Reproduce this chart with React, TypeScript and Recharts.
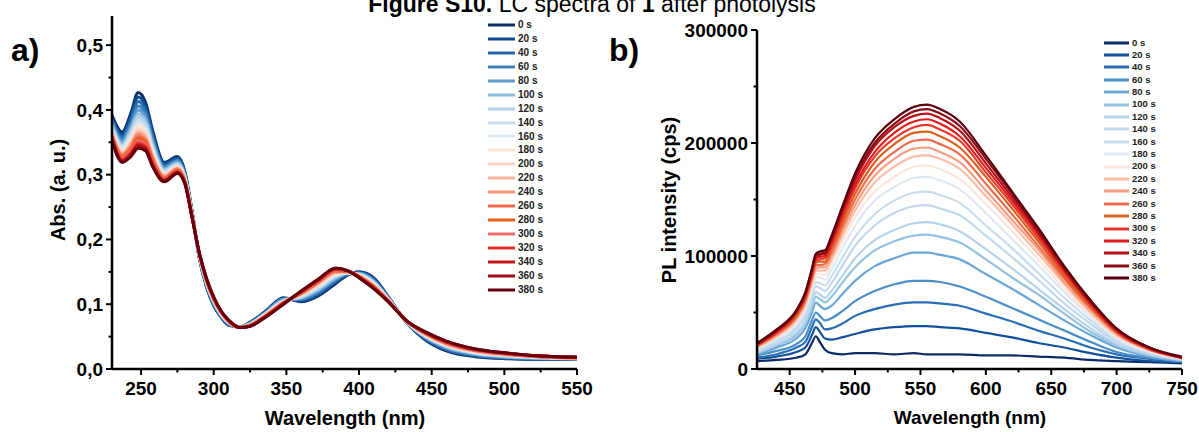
import React from 'react';
import { LineChart, Line, XAxis, YAxis, Legend } from 'recharts';

// ---------- shared ----------
const TIMES = ['0 s', '20 s', '40 s', '60 s', '80 s', '100 s', '120 s', '140 s', '160 s', '180 s', '200 s', '220 s', '240 s', '260 s', '280 s', '300 s', '320 s', '340 s', '360 s', '380 s'];

// ---------- panel a: absorbance ----------
const WL_A = [230, 237, 243, 248, 253, 258, 266, 275, 280, 285, 290, 295, 300, 305, 310, 318, 325, 335, 348, 360, 372, 384, 392, 400, 410, 420, 433, 445, 460, 480, 500, 525, 550];
const A00 = [0.392, 0.366, 0.395, 0.427, 0.412, 0.368, 0.319, 0.328, 0.306, 0.245, 0.172, 0.127, 0.098, 0.080, 0.068, 0.065, 0.072, 0.088, 0.110, 0.104, 0.113, 0.132, 0.145, 0.150, 0.141, 0.112, 0.071, 0.046, 0.028, 0.019, 0.016, 0.015, 0.015];
const A20 = [0.389, 0.362, 0.390, 0.420, 0.406, 0.364, 0.317, 0.326, 0.305, 0.244, 0.173, 0.128, 0.099, 0.081, 0.069, 0.065, 0.072, 0.087, 0.109, 0.105, 0.115, 0.134, 0.146, 0.149, 0.140, 0.111, 0.071, 0.047, 0.029, 0.020, 0.017, 0.015, 0.015];
const A40 = [0.386, 0.358, 0.384, 0.413, 0.400, 0.359, 0.314, 0.324, 0.303, 0.243, 0.173, 0.129, 0.100, 0.082, 0.069, 0.065, 0.071, 0.087, 0.108, 0.107, 0.117, 0.136, 0.146, 0.149, 0.138, 0.111, 0.072, 0.048, 0.030, 0.021, 0.017, 0.016, 0.016];
const A60 = [0.383, 0.355, 0.379, 0.406, 0.394, 0.355, 0.312, 0.322, 0.301, 0.243, 0.174, 0.130, 0.101, 0.082, 0.070, 0.065, 0.071, 0.086, 0.108, 0.108, 0.119, 0.138, 0.147, 0.148, 0.137, 0.110, 0.072, 0.049, 0.032, 0.022, 0.018, 0.016, 0.016];
const A80 = [0.380, 0.351, 0.374, 0.400, 0.389, 0.351, 0.310, 0.320, 0.300, 0.242, 0.175, 0.131, 0.102, 0.083, 0.071, 0.065, 0.070, 0.085, 0.107, 0.109, 0.121, 0.139, 0.147, 0.147, 0.136, 0.110, 0.072, 0.050, 0.033, 0.023, 0.019, 0.017, 0.016];
const A100 = [0.377, 0.348, 0.370, 0.394, 0.384, 0.347, 0.308, 0.318, 0.299, 0.241, 0.175, 0.132, 0.103, 0.084, 0.071, 0.065, 0.070, 0.085, 0.106, 0.110, 0.123, 0.141, 0.148, 0.147, 0.135, 0.109, 0.072, 0.051, 0.034, 0.024, 0.019, 0.017, 0.016];
const A120 = [0.375, 0.345, 0.366, 0.389, 0.379, 0.343, 0.306, 0.317, 0.298, 0.241, 0.176, 0.133, 0.104, 0.084, 0.072, 0.065, 0.069, 0.084, 0.106, 0.111, 0.124, 0.143, 0.148, 0.146, 0.134, 0.109, 0.072, 0.051, 0.035, 0.024, 0.020, 0.017, 0.016];
const A140 = [0.373, 0.343, 0.362, 0.384, 0.375, 0.340, 0.304, 0.315, 0.297, 0.240, 0.176, 0.134, 0.105, 0.085, 0.072, 0.065, 0.069, 0.084, 0.105, 0.112, 0.126, 0.144, 0.149, 0.146, 0.133, 0.108, 0.073, 0.052, 0.036, 0.025, 0.021, 0.018, 0.017];
const A160 = [0.370, 0.340, 0.358, 0.379, 0.370, 0.337, 0.302, 0.313, 0.295, 0.239, 0.177, 0.134, 0.105, 0.086, 0.073, 0.064, 0.069, 0.083, 0.104, 0.113, 0.128, 0.145, 0.149, 0.145, 0.132, 0.108, 0.073, 0.053, 0.036, 0.026, 0.021, 0.018, 0.017];
const A180 = [0.368, 0.337, 0.354, 0.375, 0.366, 0.334, 0.301, 0.312, 0.294, 0.239, 0.177, 0.135, 0.106, 0.086, 0.073, 0.064, 0.068, 0.083, 0.104, 0.114, 0.129, 0.147, 0.149, 0.145, 0.131, 0.107, 0.073, 0.053, 0.037, 0.026, 0.022, 0.018, 0.017];
const A200 = [0.366, 0.335, 0.351, 0.370, 0.363, 0.331, 0.299, 0.311, 0.294, 0.238, 0.177, 0.136, 0.107, 0.087, 0.073, 0.064, 0.068, 0.082, 0.103, 0.115, 0.130, 0.148, 0.150, 0.144, 0.130, 0.107, 0.073, 0.054, 0.038, 0.027, 0.022, 0.018, 0.017];
const A220 = [0.364, 0.333, 0.347, 0.366, 0.359, 0.328, 0.298, 0.310, 0.293, 0.238, 0.178, 0.136, 0.107, 0.087, 0.074, 0.064, 0.068, 0.082, 0.103, 0.115, 0.132, 0.149, 0.150, 0.144, 0.129, 0.106, 0.073, 0.055, 0.039, 0.028, 0.022, 0.019, 0.017];
const A240 = [0.363, 0.331, 0.345, 0.363, 0.356, 0.326, 0.297, 0.309, 0.292, 0.238, 0.178, 0.137, 0.108, 0.088, 0.074, 0.064, 0.068, 0.081, 0.103, 0.116, 0.133, 0.150, 0.150, 0.143, 0.128, 0.106, 0.073, 0.055, 0.039, 0.028, 0.023, 0.019, 0.017];
const A260 = [0.361, 0.329, 0.342, 0.359, 0.353, 0.324, 0.295, 0.308, 0.291, 0.237, 0.178, 0.137, 0.108, 0.088, 0.074, 0.064, 0.067, 0.081, 0.102, 0.117, 0.134, 0.151, 0.151, 0.143, 0.128, 0.106, 0.073, 0.056, 0.040, 0.029, 0.023, 0.019, 0.017];
const A280 = [0.360, 0.327, 0.339, 0.356, 0.350, 0.322, 0.294, 0.306, 0.290, 0.237, 0.179, 0.138, 0.109, 0.088, 0.075, 0.064, 0.067, 0.081, 0.102, 0.117, 0.135, 0.152, 0.151, 0.143, 0.127, 0.105, 0.074, 0.056, 0.041, 0.029, 0.024, 0.019, 0.018];
const A300 = [0.358, 0.325, 0.337, 0.352, 0.347, 0.319, 0.293, 0.305, 0.290, 0.236, 0.179, 0.138, 0.109, 0.089, 0.075, 0.064, 0.067, 0.080, 0.101, 0.118, 0.136, 0.153, 0.151, 0.142, 0.126, 0.105, 0.074, 0.056, 0.041, 0.029, 0.024, 0.019, 0.018];
const A320 = [0.357, 0.323, 0.334, 0.349, 0.344, 0.317, 0.292, 0.304, 0.289, 0.236, 0.179, 0.139, 0.110, 0.089, 0.075, 0.064, 0.067, 0.080, 0.101, 0.119, 0.137, 0.154, 0.151, 0.142, 0.126, 0.105, 0.074, 0.057, 0.042, 0.030, 0.024, 0.020, 0.018];
const A340 = [0.355, 0.322, 0.332, 0.346, 0.342, 0.315, 0.291, 0.304, 0.288, 0.236, 0.180, 0.139, 0.110, 0.089, 0.076, 0.064, 0.066, 0.080, 0.101, 0.119, 0.137, 0.155, 0.152, 0.142, 0.125, 0.105, 0.074, 0.057, 0.042, 0.030, 0.025, 0.020, 0.018];
const A360 = [0.354, 0.320, 0.330, 0.344, 0.339, 0.314, 0.290, 0.303, 0.288, 0.235, 0.180, 0.140, 0.111, 0.090, 0.076, 0.064, 0.066, 0.079, 0.100, 0.120, 0.138, 0.155, 0.152, 0.141, 0.125, 0.104, 0.074, 0.058, 0.043, 0.031, 0.025, 0.020, 0.018];
const A380 = [0.353, 0.319, 0.328, 0.341, 0.337, 0.312, 0.289, 0.302, 0.287, 0.235, 0.180, 0.140, 0.111, 0.090, 0.076, 0.064, 0.066, 0.079, 0.100, 0.120, 0.139, 0.156, 0.152, 0.141, 0.124, 0.104, 0.074, 0.058, 0.043, 0.031, 0.025, 0.020, 0.018];
const SERIES_A = [A00, A20, A40, A60, A80, A100, A120, A140, A160, A180, A200, A220, A240, A260, A280, A300, A320, A340, A360, A380];
const COLORS_A = ['#0b2e6b', '#0f4c8f', '#2468ad', '#3d84bf', '#5d9dcf', '#8fbfe0', '#b3d0e9', '#c8dcef', '#dce8f4', '#fde3d3', '#fcd3c6', '#f9b59d', '#f4917a', '#ee6a4f', '#e8611a', '#f06d6d', '#e3302a', '#c4151d', '#a10e16', '#66000e'];
const A_X_TICKS = [250, 275, 300, 325, 350, 375, 400, 425, 450, 475, 500, 525, 550];
const A_X_MAJOR = [250, 300, 350, 400, 450, 500, 550];
const A_X_LABELS = ['250', '300', '350', '400', '450', '500', '550'];
const A_Y_TICKS = [0, 0.05, 0.1, 0.15, 0.2, 0.25, 0.3, 0.35, 0.4, 0.45, 0.5];
const A_Y_MAJOR = [0, 0.1, 0.2, 0.3, 0.4, 0.5];
const A_Y_LABELS = ['0,0', '0,1', '0,2', '0,3', '0,4', '0,5'];

// ---------- panel b: PL intensity (thousand cps) ----------
const WL_B = [425, 440, 455, 462, 467, 470, 473, 477, 482, 490, 500, 515, 530, 545, 555, 565, 580, 600, 620, 640, 660, 680, 700, 725, 750];
const P00 = [7, 8, 10, 13, 23, 29, 24, 17, 14, 13, 14, 14, 13, 14, 13, 13, 13, 12, 12, 11, 10, 8, 7, 6, 5];
const P20 = [9, 11, 15, 19, 30, 37, 33, 27, 26, 28, 31, 35, 37, 38, 38, 37, 36, 32, 28, 23, 19, 14, 10, 7, 6];
const P40 = [10, 13, 19, 24, 37, 44, 41, 35, 36, 40, 47, 53, 57, 59, 59, 58, 56, 49, 42, 34, 27, 19, 13, 9, 6];
const P60 = [12, 16, 22, 29, 43, 50, 47, 43, 45, 51, 60, 69, 75, 78, 78, 77, 73, 64, 54, 44, 34, 24, 15, 10, 7];
const P80 = [13, 19, 27, 36, 50, 59, 56, 53, 56, 66, 78, 91, 98, 103, 103, 101, 97, 84, 71, 57, 43, 30, 19, 11, 7];
const P100 = [14, 21, 30, 40, 55, 64, 62, 59, 64, 76, 90, 105, 113, 118, 119, 117, 112, 97, 81, 66, 49, 33, 21, 12, 8];
const P120 = [15, 22, 32, 42, 58, 68, 66, 63, 69, 82, 98, 114, 123, 129, 130, 128, 122, 106, 89, 71, 53, 36, 22, 13, 8];
const P140 = [16, 24, 35, 46, 63, 73, 72, 69, 76, 91, 109, 127, 138, 144, 145, 142, 136, 118, 99, 79, 58, 40, 24, 14, 8];
const P160 = [17, 25, 37, 49, 66, 77, 76, 74, 82, 98, 117, 137, 149, 156, 157, 154, 147, 127, 107, 85, 63, 43, 26, 15, 9];
const P180 = [18, 27, 40, 52, 70, 81, 81, 79, 88, 106, 127, 149, 161, 169, 170, 167, 159, 138, 115, 92, 68, 46, 27, 15, 9];
const P200 = [19, 28, 42, 55, 73, 84, 84, 83, 93, 112, 134, 157, 170, 179, 180, 177, 168, 146, 122, 97, 71, 48, 29, 16, 9];
const P220 = [19, 29, 43, 57, 76, 87, 87, 87, 97, 117, 140, 165, 179, 188, 189, 186, 177, 153, 128, 102, 75, 50, 30, 17, 9];
const P240 = [20, 30, 45, 59, 78, 89, 90, 90, 100, 121, 145, 171, 186, 195, 196, 192, 183, 158, 132, 106, 77, 52, 31, 17, 10];
const P260 = [20, 31, 46, 61, 80, 92, 92, 93, 103, 125, 150, 177, 192, 202, 203, 199, 190, 164, 137, 109, 80, 54, 32, 17, 10];
const P280 = [21, 32, 47, 62, 82, 94, 95, 95, 107, 129, 155, 183, 199, 209, 210, 206, 196, 170, 142, 113, 82, 55, 33, 18, 10];
const P300 = [21, 32, 49, 64, 84, 96, 97, 98, 109, 133, 160, 188, 204, 214, 216, 212, 202, 174, 146, 116, 85, 57, 33, 18, 10];
const P320 = [22, 33, 50, 65, 85, 98, 99, 100, 112, 136, 163, 192, 209, 219, 221, 217, 206, 178, 149, 119, 87, 58, 34, 18, 10];
const P340 = [22, 34, 50, 66, 87, 99, 101, 102, 114, 139, 167, 197, 214, 224, 226, 222, 211, 182, 152, 121, 88, 59, 35, 19, 10];
const P360 = [22, 34, 51, 67, 88, 101, 102, 103, 116, 141, 170, 200, 217, 228, 230, 226, 215, 186, 155, 123, 90, 60, 35, 19, 10];
const P380 = [23, 35, 52, 68, 89, 102, 104, 105, 118, 143, 173, 204, 221, 232, 234, 230, 219, 189, 157, 125, 91, 61, 36, 19, 11];
const SERIES_B = [P00, P20, P40, P60, P80, P100, P120, P140, P160, P180, P200, P220, P240, P260, P280, P300, P320, P340, P360, P380];
const COLORS_B = ['#0b2b66', '#11509a', '#2a6db4', '#4a8fc8', '#6aa7d6', '#94c2e3', '#b7d3ea', '#c3d8ec', '#c9ddef', '#dde9f5', '#fde7dd', '#fbbea7', '#f69f80', '#f06a4e', '#d8611b', '#e4392e', '#e31b1c', '#b3121b', '#8a0a14', '#5a0010'];
const B_X_TICKS = [450, 475, 500, 525, 550, 575, 600, 625, 650, 675, 700, 725, 750];
const B_X_MAJOR = [450, 500, 550, 600, 650, 700, 750];
const B_X_LABELS = ['450', '500', '550', '600', '650', '700', '750'];
const B_Y_TICKS = [0, 50, 100, 150, 200, 250, 300];
const B_Y_MAJOR = [0, 100, 200, 300];
const B_Y_LABELS = ['0', '100000', '200000', '300000'];

const FONT = "'Liberation Sans', Arial, Helvetica, sans-serif";

function buildRows(xs: number[], series: number[][]) {
  return xs.map((x, i) => {
    const row: Record<string, number> = { x };
    series.forEach((s, j) => { row['s' + j] = s[i]; });
    return row;
  });
}

const ROWS_A = buildRows(WL_A, SERIES_A);
const ROWS_B = buildRows(WL_B, SERIES_B);

function labelFor(v: number, majors: number[], labels: string[]) {
  const idx = majors.findIndex((m) => Math.abs(m - v) < 1e-9);
  return idx >= 0 ? labels[idx] : null;
}

function makeXTick(majors: number[], labels: string[]) {
  return (props: any) => {
    const { x, y, payload } = props;
    const lab = labelFor(payload.value, majors, labels);
    return (
      <g>
        <line x1={x} x2={x} y1={y} y2={y + (lab ? 6 : 3.5)} stroke="#000" strokeWidth={2} />
        {lab && (
          <text x={x} y={y + 26} textAnchor="middle" fontSize={19} fontWeight="bold" fontFamily={FONT} fill="#000">
            {lab}
          </text>
        )}
      </g>
    );
  };
}

function makeYTick(majors: number[], labels: string[]) {
  return (props: any) => {
    const { x, y, payload } = props;
    const lab = labelFor(payload.value, majors, labels);
    return (
      <g>
        <line x1={x} x2={x - (lab ? 6 : 3.5)} y1={y} y2={y} stroke="#000" strokeWidth={2} />
        {lab && (
          <text x={x - 9} y={y} dy="0.35em" textAnchor="end" fontSize={19} fontWeight="bold" fontFamily={FONT} fill="#000">
            {lab}
          </text>
        )}
      </g>
    );
  };
}

function makeLegend(colors: string[], rowH: number, lineW: number, fontSize: number) {
  return () => (
    <div style={{ fontFamily: FONT, fontWeight: 'bold', fontSize, color: '#222' }}>
      {TIMES.map((t, i) => (
        <div key={t} style={{ display: 'flex', alignItems: 'center', height: rowH, lineHeight: rowH + 'px' }}>
          <svg width={lineW} height={4} style={{ display: 'block' }}>
            <line x1={0} x2={lineW} y1={2} y2={2} stroke={colors[i]} strokeWidth={3} />
          </svg>
          <span style={{ marginLeft: 3 }}>{t}</span>
        </div>
      ))}
    </div>
  );
}

const AXIS_LINE = { stroke: '#000', strokeWidth: 2.5 };

function PanelA() {
  return (
    <LineChart width={600} height={432} data={ROWS_A} margin={{ top: 16, right: 23, bottom: 33, left: 52 }}>
      <XAxis dataKey="x" type="number" domain={[230, 550]} allowDataOverflow ticks={A_X_TICKS} interval={0}
        tickSize={0} tickMargin={0} tickLine={false} axisLine={AXIS_LINE} height={30}
        tick={makeXTick(A_X_MAJOR, A_X_LABELS)} />
      <XAxis xAxisId="top" orientation="top" dataKey="x" type="number" domain={[230, 550]} allowDataOverflow
        tick={false} tickLine={false} axisLine={AXIS_LINE} height={0} />
      <YAxis type="number" domain={[0, 0.545]} allowDataOverflow ticks={A_Y_TICKS} interval={0}
        tickSize={0} tickMargin={0} tickLine={false} axisLine={AXIS_LINE} width={60}
        tick={makeYTick(A_Y_MAJOR, A_Y_LABELS)} />
      <YAxis yAxisId="right" orientation="right" type="number" domain={[0, 1]} tick={false} tickLine={false}
        axisLine={AXIS_LINE} width={0} />
      <Legend layout="vertical" align="center" verticalAlign="middle"
        wrapperStyle={{ left: 488, top: 18, width: 95 }}
        content={makeLegend(COLORS_A, 13.95, 27, 10)} />
      {SERIES_A.map((_, i) => (
        <Line key={i} dataKey={'s' + i} name={TIMES[i]} type="monotone" stroke={COLORS_A[i]} strokeWidth={3}
          dot={false} activeDot={false} isAnimationActive={false} />
      ))}
    </LineChart>
  );
}

function PanelB() {
  return (
    <LineChart width={599} height={432} data={ROWS_B} margin={{ top: 30, right: 17, bottom: 33, left: 97 }}>
      <XAxis dataKey="x" type="number" domain={[425, 750]} allowDataOverflow ticks={B_X_TICKS} interval={0}
        tickSize={0} tickMargin={0} tickLine={false} axisLine={AXIS_LINE} height={30}
        tick={makeXTick(B_X_MAJOR, B_X_LABELS)} />
      <XAxis xAxisId="top" orientation="top" dataKey="x" type="number" domain={[425, 750]} allowDataOverflow
        tick={false} tickLine={false} axisLine={AXIS_LINE} height={0} />
      <YAxis type="number" domain={[0, 300]} allowDataOverflow ticks={B_Y_TICKS} interval={0}
        tickSize={0} tickMargin={0} tickLine={false} axisLine={AXIS_LINE} width={60}
        tick={makeYTick(B_Y_MAJOR, B_Y_LABELS)} />
      <YAxis yAxisId="right" orientation="right" type="number" domain={[0, 1]} tick={false} tickLine={false}
        axisLine={AXIS_LINE} width={0} />
      <Legend layout="vertical" align="center" verticalAlign="middle"
        wrapperStyle={{ left: 504, top: 36.5, width: 80 }}
        content={makeLegend(COLORS_B, 12.4, 25, 9.5)} />
      {SERIES_B.map((_, i) => (
        <Line key={i} dataKey={'s' + i} name={TIMES[i]} type="monotone" stroke={COLORS_B[i]} strokeWidth={2.2}
          dot={false} activeDot={false} isAnimationActive={false} />
      ))}
    </LineChart>
  );
}

export default function App() {
  return (
    <div style={{ position: 'absolute', left: 0, top: 0, width: 1199, height: 432, background: '#fff', overflow: 'hidden' }}>
      <div style={{ position: 'absolute', left: 0, top: 0 }}><PanelA /></div>
      <div style={{ position: 'absolute', left: 600, top: 0 }}><PanelB /></div>
      <svg width={1199} height={432} style={{ position: 'absolute', left: 0, top: 0, pointerEvents: 'none' }}>
        <text x={592} y={12} textAnchor="middle" fontSize={23} fontFamily={FONT} fill="#000">
          <tspan fontWeight="bold">Figure S10.</tspan> LC spectra of <tspan fontWeight="bold">1</tspan> after photolysis
        </text>
        <text x={11} y={61} fontSize={32} fontWeight="bold" fontFamily={FONT} fill="#000">a)</text>
        <text x={609} y={61} fontSize={32} fontWeight="bold" fontFamily={FONT} fill="#000">b)</text>
        <text x={345} y={425} textAnchor="middle" fontSize={20} fontWeight="bold" fontFamily={FONT} fill="#000">Wavelength (nm)</text>
        <text x={970} y={424} textAnchor="middle" fontSize={19} fontWeight="bold" fontFamily={FONT} fill="#000">Wavelength (nm)</text>
        <text transform="translate(65,190) rotate(-90)" textAnchor="middle" fontSize={20} fontWeight="bold" fontFamily={FONT} fill="#000">Abs. (a. u.)</text>
        <text transform="translate(676,200) rotate(-90)" textAnchor="middle" fontSize={20} fontWeight="bold" fontFamily={FONT} fill="#000">PL intensity (cps)</text>
      </svg>
    </div>
  );
}
